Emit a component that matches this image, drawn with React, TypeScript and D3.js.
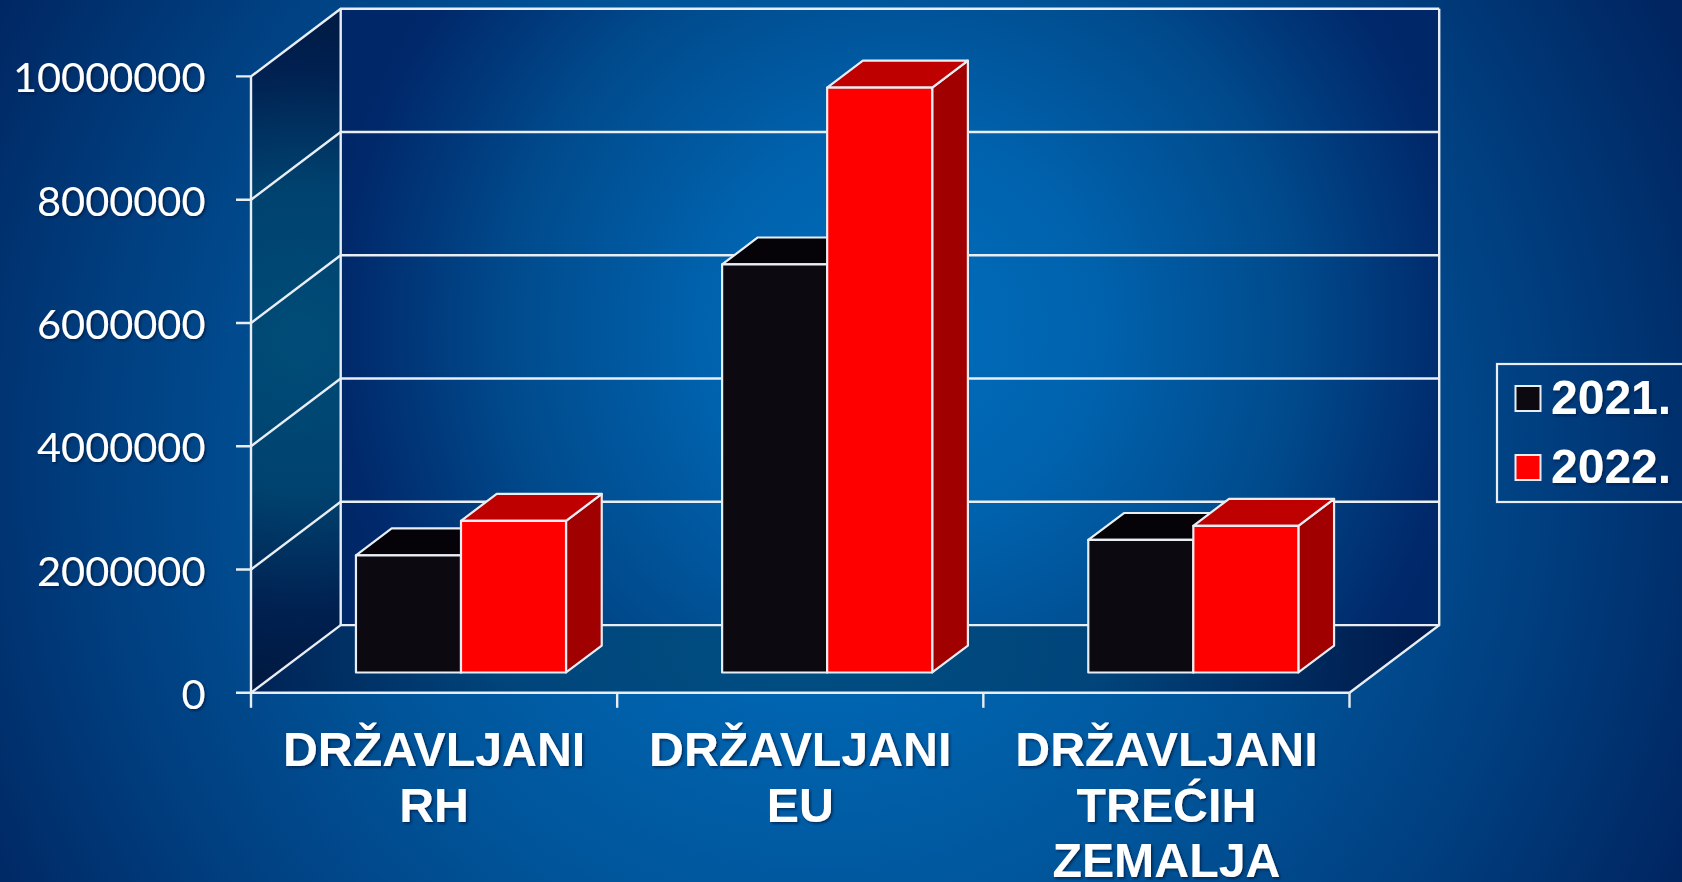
import React from 'react';
import * as d3 from 'd3';

const categories = ['DRŽAVLJANI RH', 'DRŽAVLJANI EU', 'DRŽAVLJANI TREĆIH ZEMALJA'];
const categoryLines = [['DRŽAVLJANI', 'RH'], ['DRŽAVLJANI', 'EU'], ['DRŽAVLJANI', 'TREĆIH', 'ZEMALJA']];
const years = ['2021.', '2022.'];
const values2021 = [1900000, 6620000, 2150000];
const values2022 = [2460000, 9490000, 2380000];
const seriesValues = [values2021, values2022];

const colors = [
  { face: '#0c0a10', top: '#050308', side: '#050308' },
  { face: '#ff0000', top: '#bf0000', side: '#a00000' },
];

const W = 1682;
const H = 882;
const LINE = '#e9eef4';
const depthX = 89.7;
const depthY = 67.7;

const y = d3.scaleLinear().domain([0, 10000000]).range([692.8, 76.4]);
const x = d3.scaleBand().domain(categories).range([251, 1349.5]);
const xInner = d3.scaleBand().domain(years).range([0, x.bandwidth()]).paddingInner(0).paddingOuter(0.743);
const line = d3.line();

// 3D projection: depth 0 is the front plane, 1 the back wall
const proj = (px: number, value: number, depth: number): [number, number] => [px + depth * depthX, y(value) - depth * depthY];
const poly = (pts: [number, number][]) => line(pts) + 'Z';

const barFront = 0.3;
const barBack = 0.698;

export default function App() {
  document.body.style.margin = '0';
  document.body.style.overflow = 'hidden';
  const x0 = x.range()[0];
  const x1 = x.range()[1];
  const ticks = y.ticks(5);
  const tickFmt = d3.format('d');

  return (
    <svg width={W} height={H} style={{ display: 'block' }}>
      <defs>
        <radialGradient id="bg" gradientUnits="userSpaceOnUse" cx={820} cy={460} r={960}>
          <stop offset="0%" stopColor="#006cba" />
          <stop offset="25%" stopColor="#0064b0" />
          <stop offset="50%" stopColor="#00559a" />
          <stop offset="75%" stopColor="#003f80" />
          <stop offset="100%" stopColor="#002560" />
        </radialGradient>
        <radialGradient id="wall" gradientUnits="userSpaceOnUse" cx={900} cy={330} r={600}>
          <stop offset="0%" stopColor="#006ebd" />
          <stop offset="33%" stopColor="#0062ad" />
          <stop offset="66%" stopColor="#004a8c" />
          <stop offset="93%" stopColor="#00296b" />
          <stop offset="100%" stopColor="#002767" />
        </radialGradient>
        <radialGradient id="sideWall" gradientUnits="userSpaceOnUse" cx={300} cy={340} r={340}>
          <stop offset="0%" stopColor="#004c78" />
          <stop offset="45%" stopColor="#00426f" />
          <stop offset="80%" stopColor="#002050" />
          <stop offset="100%" stopColor="#001a42" />
        </radialGradient>
        <radialGradient id="floor" gradientUnits="userSpaceOnUse" cx={0} cy={0} r={1} gradientTransform="translate(800 650) scale(620 300)">
          <stop offset="0%" stopColor="#004f82" />
          <stop offset="50%" stopColor="#00447a" />
          <stop offset="100%" stopColor="#001a4c" />
        </radialGradient>
        <filter id="shadow" x="-5%" y="-10%" width="115%" height="130%">
          <feDropShadow dx="1.6" dy="1.6" stdDeviation="0.8" floodColor="#001a40" floodOpacity="0.75" />
        </filter>
      </defs>

      <rect width={W} height={H} fill="url(#bg)" />

      {/* walls and floor */}
      <path d={poly([proj(x0, 0, 1), proj(x1, 0, 1), proj(x1, 10000000, 1), proj(x0, 10000000, 1)])} fill="url(#wall)" />
      <path d={poly([proj(x0, 0, 0), proj(x0, 0, 1), proj(x0, 10000000, 1), proj(x0, 10000000, 0)])} fill="url(#sideWall)" />
      <path d={poly([proj(x0, 0, 0), proj(x1, 0, 0), proj(x1, 0, 1), proj(x0, 0, 1)])} fill="url(#floor)" />

      {/* grid */}
      <g fill="none" stroke={LINE} strokeWidth={2.4}>
        {ticks.map((t) => (
          <path key={t} d={line([proj(x0 - 15, t, 0), proj(x0, t, 0), proj(x0, t, 1), proj(x1, t, 1)]) as string} />
        ))}
        <path d={line([proj(x0, 0, 0), proj(x0, 10000000, 0)]) as string} />
        <path d={line([proj(x0, 0, 1), proj(x0, 10000000, 1)]) as string} />
        <path d={line([proj(x1, 10000000, 1), proj(x1, 0, 1), proj(x1, 0, 0)]) as string} />
        <path d={line([proj(x0, 0, 0), proj(x1, 0, 0)]) as string} />
        {[...categories.map((c) => x(c) as number), x1].map((px) => (
          <path key={px} d={line([[px, y(0)], [px, y(0) + 15]]) as string} />
        ))}
      </g>

      {/* bars */}
      {categories.map((c, ci) =>
        years.map((yr, si) => {
          const left = (x(c) as number) + (xInner(yr) as number);
          const right = left + xInner.bandwidth();
          const v = seriesValues[si][ci];
          return (
            <g key={c + yr} stroke={LINE} strokeWidth={2.2} strokeLinejoin="round">
              <path d={poly([proj(right, 0, barFront), proj(right, 0, barBack), proj(right, v, barBack), proj(right, v, barFront)])} fill={colors[si].side} />
              <path d={poly([proj(left, v, barFront), proj(right, v, barFront), proj(right, v, barBack), proj(left, v, barBack)])} fill={colors[si].top} />
              <path d={poly([proj(left, 0, barFront), proj(right, 0, barFront), proj(right, v, barFront), proj(left, v, barFront)])} fill={colors[si].face} />
            </g>
          );
        })
      )}

      {/* y axis labels */}
      <g filter="url(#shadow)" fill="#ffffff">
        {ticks.map((t) => (
          <text key={t} x={205.5} y={y(t) + 16} textAnchor="end" fontFamily="Lato" fontSize={41.5}>
            {tickFmt(t)}
          </text>
        ))}
        {/* x axis labels */}
        {categories.map((c, i) => (
          <text key={c} textAnchor="middle" fontFamily="'Liberation Sans'" fontWeight="bold" fontSize={48.3}>
            {categoryLines[i].map((l, j) => (
              <tspan key={l} x={(x(c) as number) + x.bandwidth() / 2} y={766 + j * 55.5}>
                {l}
              </tspan>
            ))}
          </text>
        ))}
      </g>

      {/* legend */}
      <rect x={1497} y={364} width={190} height={138} fill="none" stroke={LINE} strokeWidth={2.2} />
      {years.map((yr, i) => (
        <g key={yr}>
          <rect x={1515.5} y={386 + i * 69} width={25} height={25} fill={colors[i].face} stroke={LINE} strokeWidth={2} />
          <text x={1551} y={414 + i * 69} fill="#ffffff" fontFamily="'Liberation Sans'" fontWeight="bold" fontSize={48} filter="url(#shadow)">
            {yr}
          </text>
        </g>
      ))}
    </svg>
  );
}
